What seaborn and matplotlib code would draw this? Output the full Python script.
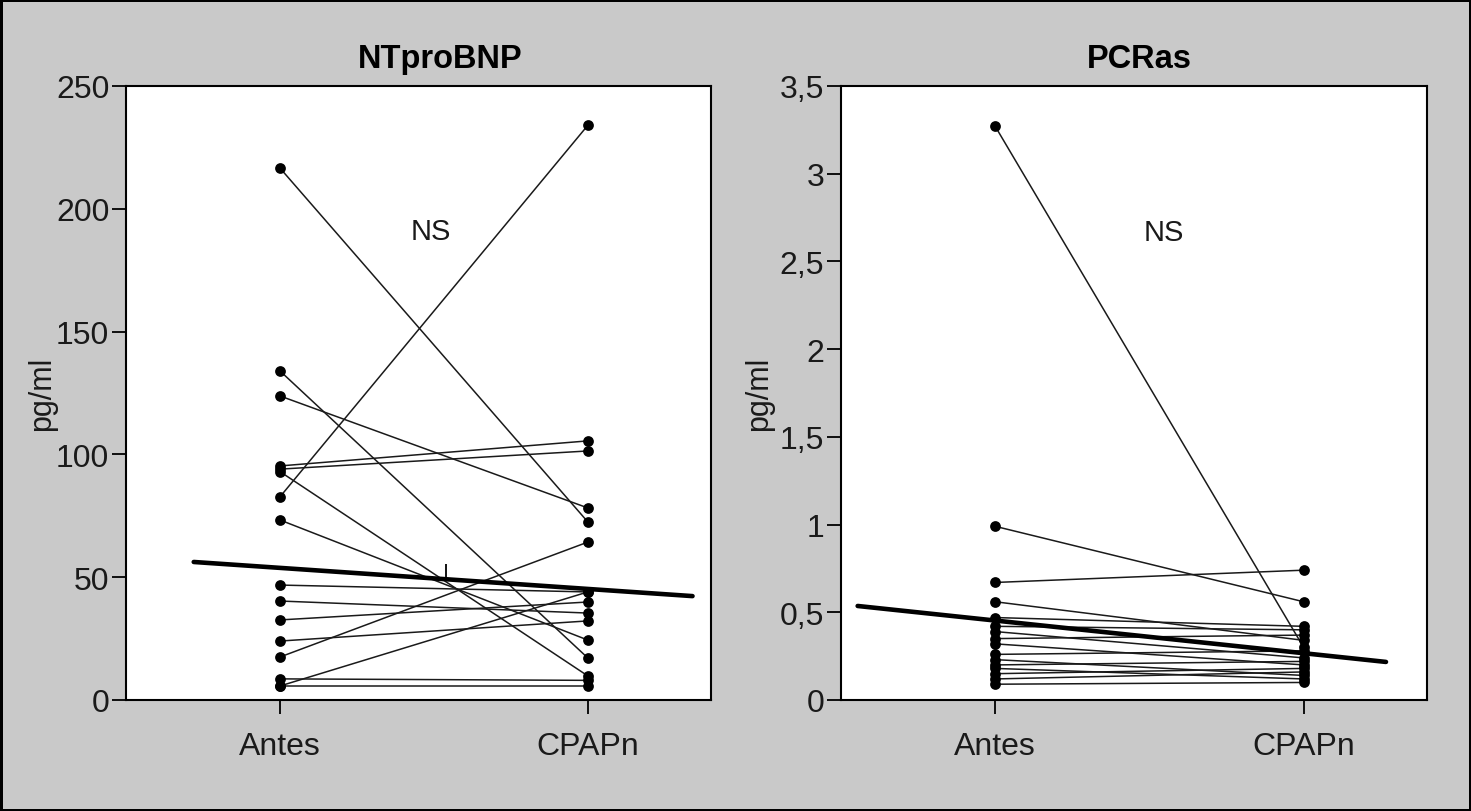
import numpy as np
import pandas as pd
import matplotlib
matplotlib.use("Agg")
import matplotlib.pyplot as plt
import seaborn as sns

# ---------------- data ----------------
categories = ["Antes", "CPAPn"]

nt_antes = [216.6, 134.0, 123.8, 95.3, 94.0, 93.0, 82.7, 73.3, 46.8, 40.3, 32.6, 24.0, 17.5, 8.6, 5.7, 5.7]
nt_cpap  = [72.5, 17.1, 78.2, 105.5, 101.4, 9.8, 234.0, 24.4, 44.0, 35.4, 39.9, 32.2, 64.3, 8.0, 44.0, 5.7]

pcr_antes = [3.27, 0.99, 0.67, 0.56, 0.47, 0.42, 0.39, 0.35, 0.32, 0.26, 0.23, 0.20, 0.18, 0.15, 0.12, 0.09]
pcr_cpap  = [0.30, 0.56, 0.74, 0.34, 0.42, 0.40, 0.24, 0.37, 0.20, 0.28, 0.14, 0.22, 0.12, 0.18, 0.16, 0.10]

# bold trend lines (category-position, value)
nt_trend_x = [-0.28, 1.34]
nt_trend_y = [56.2, 42.3]
nt_mark_x = 0.54
nt_mark_y = [48.5, 55.4]
pcr_trend_x = [-0.446, 1.267]
pcr_trend_y = [0.536, 0.217]

nt_ticks = [0, 50, 100, 150, 200, 250]
nt_ticklabels = ["0", "50", "100", "150", "200", "250"]
pcr_ticks = [0, 0.5, 1, 1.5, 2, 2.5, 3, 3.5]
pcr_ticklabels = ["0", "0,5", "1", "1,5", "2", "2,5", "3", "3,5"]

titles = ["NTproBNP", "PCRas"]
ylabel = "pg/ml"
annot = "NS"


def long_df(before, after):
    n = len(before)
    return pd.DataFrame({
        "patient": list(range(n)) * 2,
        "pos": [0] * n + [1] * n,
        "value": list(before) + list(after),
    })


sns.set_theme(style="white")
plt.rcParams["font.family"] = ["Liberation Sans", "DejaVu Sans"]

BG = "#c9c9c9"
fig = plt.figure(figsize=(14.71, 8.12), dpi=100, facecolor=BG,
                 edgecolor="black", linewidth=2.5)

ax1 = fig.add_axes([126 / 1471, 1 - 701 / 812, 585 / 1471, 614 / 812])
ax2 = fig.add_axes([841 / 1471, 1 - 701 / 812, 586 / 1471, 614 / 812])

panels = [
    (ax1, nt_antes, nt_cpap, nt_trend_x, nt_trend_y, (0, 250), nt_ticks, nt_ticklabels, (0.49, 191), -0.118, 0.537),
    (ax2, pcr_antes, pcr_cpap, pcr_trend_x, pcr_trend_y, (0, 3.5), pcr_ticks, pcr_ticklabels, (0.547, 2.67), -0.114, 0.51),
]

for i, (ax, b, a, tx, ty, ylim, ticks, tlabels, nspos, labx, titx) in enumerate(panels):
    df = long_df(b, a)
    ax.set_facecolor("white")
    sns.lineplot(data=df, x="pos", y="value", units="patient", estimator=None,
                 color="#1a1a1a", linewidth=1.1, ax=ax, legend=False)
    sns.scatterplot(data=df, x="pos", y="value", color="black", s=60,
                    edgecolor="black", linewidth=0, ax=ax, legend=False, zorder=3)
    tdf = pd.DataFrame({"x": tx, "y": ty})
    sns.lineplot(data=tdf, x="x", y="y", color="black", linewidth=3.3, ax=ax,
                 legend=False, estimator=None, sort=False)
    ax.set_xlim(-0.5, 1.4)
    ax.set_ylim(*ylim)
    ax.set_xticks([0, 1])
    ax.set_xticklabels(categories)
    ax.set_yticks(ticks)
    ax.set_yticklabels(tlabels)
    ax.tick_params(axis="both", which="major", direction="out", length=10,
                   width=1.3, color="black", labelsize=23, labelcolor="#1a1a1a",
                   left=True, bottom=True, pad=2)
    ax.tick_params(axis="x", pad=12)
    ax.set_xlabel("")
    ax.set_ylabel(ylabel, fontsize=22, color="#1a1a1a")
    ax.yaxis.set_label_coords(labx, 0.5)
    ax.set_title(titles[i], fontsize=23.5, fontweight="bold", pad=14,
                 color="black", x=titx)
    for sp in ax.spines.values():
        sp.set_visible(True)
        sp.set_color("black")
        sp.set_linewidth(1.5)
    ax.text(nspos[0], nspos[1], annot, fontsize=21, ha="center", va="center",
            color="#1a1a1a")

ax1.vlines(nt_mark_x, nt_mark_y[0], nt_mark_y[1], color="black", linewidth=1.3)

fig.savefig("out.png", dpi=100, facecolor=BG, edgecolor="black")
